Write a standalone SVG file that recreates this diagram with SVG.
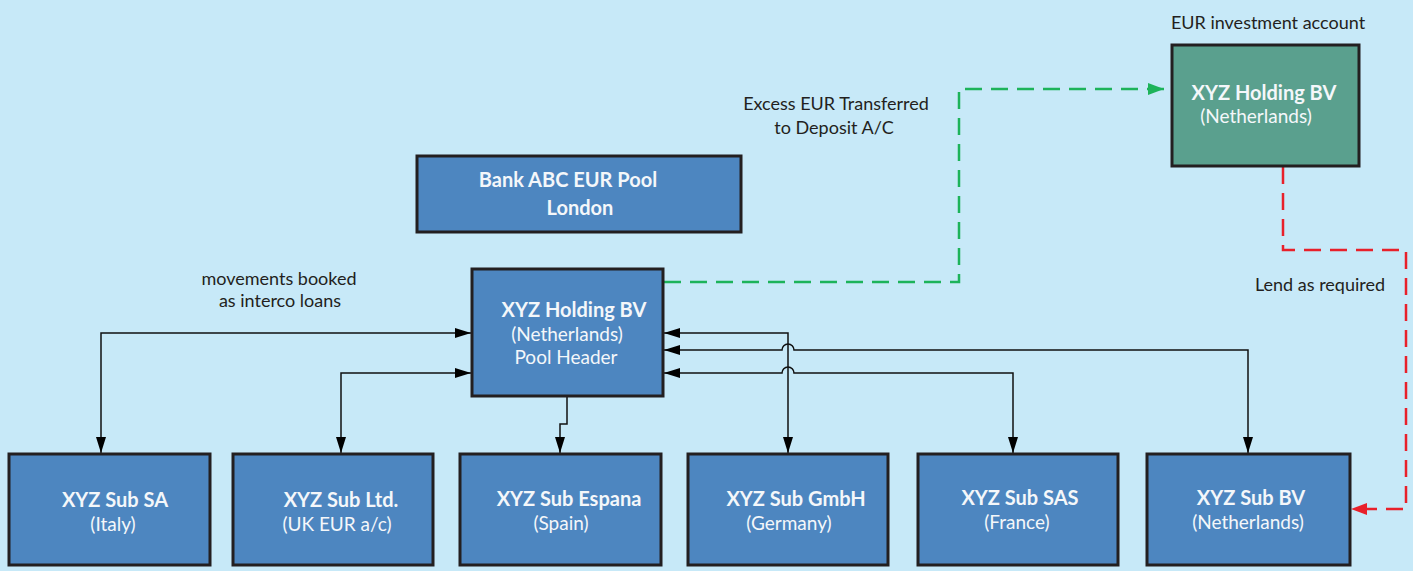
<svg xmlns="http://www.w3.org/2000/svg" width="1413" height="571" viewBox="0 0 1413 571">
<style>
.bg{fill:#C7E9F8}
.box{fill:#4D86C0;stroke:#231F20;stroke-width:3}
.gbox{fill:#5AA08E;stroke:#231F20;stroke-width:3}
.tb{font-family:Lato,"Liberation Sans",sans-serif;font-weight:bold;font-size:20px;fill:#F4F7FA;text-anchor:middle}
.tn{font-family:Lato,"Liberation Sans",sans-serif;font-size:19px;fill:#F4F7FA;text-anchor:middle}
.lb{font-family:Lato,"Liberation Sans",sans-serif;font-size:18px;fill:#231F20;text-anchor:middle}
.c{fill:none;stroke:#111;stroke-width:1.5}
.g{fill:none;stroke:#1DB35A;stroke-width:2.5;stroke-dasharray:17 9}
.r{fill:none;stroke:#E8202A;stroke-width:2.5;stroke-dasharray:17 9}
</style>
<defs>
<marker id="ah" viewBox="0 0 16 10" refX="16" refY="5" markerWidth="16" markerHeight="10" markerUnits="userSpaceOnUse" orient="auto-start-reverse"><path d="M0,0 L16,5 L0,10 z" fill="#000"/></marker>
<marker id="ag" viewBox="0 0 16 12" refX="16" refY="6" markerWidth="16" markerHeight="12" markerUnits="userSpaceOnUse" orient="auto"><path d="M0,0 L16,6 L0,12 z" fill="#1DB35A"/></marker>
<marker id="ar" viewBox="0 0 16 12" refX="16" refY="6" markerWidth="16" markerHeight="12" markerUnits="userSpaceOnUse" orient="auto"><path d="M0,0 L16,6 L0,12 z" fill="#E8202A"/></marker>
</defs>
<rect class="bg" x="0" y="0" width="1413" height="571"/>

<g id="connectors">
<path class="c" d="M101,453 V333 H471" marker-start="url(#ah)" marker-end="url(#ah)"/>
<path class="c" d="M341,453 V373 H471" marker-start="url(#ah)" marker-end="url(#ah)"/>
<path class="c" d="M567,397 V424 H560 V453" marker-end="url(#ah)"/>
<path class="c" d="M664,333 H788 V453" marker-start="url(#ah)" marker-end="url(#ah)"/>
<path class="c" d="M664,350 H782 A6,6 0 0 1 794,350 H1248 V453" marker-start="url(#ah)" marker-end="url(#ah)"/>
<path class="c" d="M664,373 H782 A6,6 0 0 1 794,373 H1013 V453" marker-start="url(#ah)" marker-end="url(#ah)"/>
<path class="g" d="M664,282 H959 V89 H1164" marker-end="url(#ag)"/>
<path class="r" d="M1283,167 V250 H1406 V509 H1351" marker-end="url(#ar)"/>
</g>

<g id="labels">
<text class="lb" x="1268" y="29">EUR investment account</text>
<text class="lb" x="836" y="110">Excess EUR Transferred</text>
<text class="lb" x="834" y="134">to Deposit A/C</text>
<text class="lb" x="279" y="285">movements booked</text>
<text class="lb" x="280" y="307">as interco loans</text>
<text class="lb" x="1320" y="291">Lend as required</text>
</g>

<g id="bank-abc">
<rect class="box" x="417" y="156" width="324" height="76"/>
<text class="tb" x="568" y="187">Bank ABC EUR Pool</text>
<text class="tb" x="580" y="215">London</text>
</g>

<g id="eur-investment">
<rect class="gbox" x="1172" y="45" width="187" height="121"/>
<text class="tb" x="1264" y="100">XYZ Holding BV</text>
<text class="tn" x="1256" y="123">(Netherlands)</text>
</g>

<g id="pool-header">
<rect class="box" x="472" y="269" width="191" height="127"/>
<text class="tb" x="574" y="317">XYZ Holding BV</text>
<text class="tn" x="567" y="341">(Netherlands)</text>
<text class="tn" x="566" y="364">Pool Header</text>
</g>

<g id="sub-sa">
<rect class="box" x="9" y="454" width="201" height="111"/>
<text class="tb" x="115" y="507">XYZ Sub SA</text>
<text class="tn" x="113" y="531">(Italy)</text>
</g>

<g id="sub-ltd">
<rect class="box" x="233" y="454" width="200" height="111"/>
<text class="tb" x="341" y="507">XYZ Sub Ltd.</text>
<text class="tn" x="337" y="531">(UK EUR a/c)</text>
</g>

<g id="sub-espana">
<rect class="box" x="460" y="454" width="201" height="111"/>
<text class="tb" x="569" y="506">XYZ Sub Espana</text>
<text class="tn" x="561" y="530">(Spain)</text>
</g>

<g id="sub-gmbh">
<rect class="box" x="688" y="454" width="200" height="111"/>
<text class="tb" x="796" y="506">XYZ Sub GmbH</text>
<text class="tn" x="789" y="530">(Germany)</text>
</g>

<g id="sub-sas">
<rect class="box" x="918" y="454" width="200" height="111"/>
<text class="tb" x="1020" y="505">XYZ Sub SAS</text>
<text class="tn" x="1017" y="529">(France)</text>
</g>

<g id="sub-bv">
<rect class="box" x="1147" y="454" width="203" height="111"/>
<text class="tb" x="1251" y="505">XYZ Sub BV</text>
<text class="tn" x="1248" y="529">(Netherlands)</text>
</g>
</svg>
